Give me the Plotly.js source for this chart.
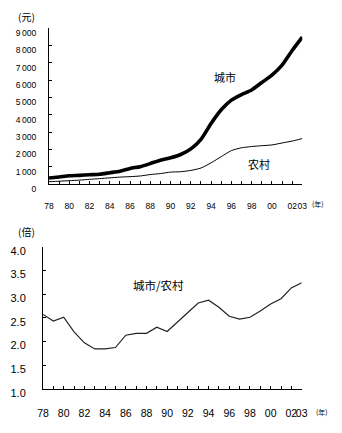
<!DOCTYPE html>
<html>
<head>
<meta charset="utf-8">
<script src="https://cdn.plot.ly/plotly-3.0.1.min.js"></script>
<style>html,body{margin:0;padding:0;background:#fff;}#chart{width:342px;height:433px;}</style>
</head>
<body>
<div id="chart"></div>
<script>
// Years
const years = [1978,1979,1980,1981,1982,1983,1984,1985,1986,1987,1988,1989,1990,1991,1992,1993,1994,1995,1996,1997,1998,1999,2000,2001,2002,2003];
// Urban per-capita income (yuan)
const urban = [343,405,478,500,535,565,652,739,900,1002,1181,1376,1510,1701,2027,2577,3496,4283,4839,5160,5425,5854,6280,6860,7703,8472];
// Rural per-capita income (yuan)
const rural = [134,160,191,223,270,310,355,398,424,463,545,602,686,709,784,922,1221,1578,1926,2090,2162,2210,2253,2366,2476,2622];
// Urban / rural ratio (times)
const ratio = [2.57,2.43,2.51,2.20,1.97,1.84,1.84,1.87,2.13,2.17,2.17,2.30,2.21,2.42,2.61,2.81,2.87,2.72,2.53,2.47,2.51,2.64,2.79,2.90,3.13,3.24];
// Tick labels
const xTickText = ["78","","80","","82","","84","","86","","88","","90","","92","","94","","96","","98","","00","","02","03"];
const yTopVals = [0,1000,2000,3000,4000,5000,6000,7000,8000,9000];
const yTopText = ["0","1\u2009000","2\u2009000","3\u2009000","4\u2009000","5\u2009000","6\u2009000","7\u2009000","8\u2009000","9\u2009000"];
const yBotVals = [1.0,1.5,2.0,2.5,3.0,3.5,4.0];
const yBotText = ["1.0","1.5","2.0","2.5","3.0","3.5","4.0"];

const W = 342, H = 433;
const px = x => x / W;
const py = y => 1 - y / H;
const FONT = "'Liberation Sans', 'Noto Sans CJK SC', sans-serif";
const CJK = "'Noto Sans CJK SC', sans-serif";

const traces = [
  {x: years, y: urban, xaxis: 'x', yaxis: 'y', mode: 'lines',
   line: {color: '#000', width: 3.6, shape: 'spline', smoothing: 0.6}},
  {x: years, y: rural, xaxis: 'x', yaxis: 'y', mode: 'lines',
   line: {color: '#000', width: 1, shape: 'spline', smoothing: 0.6}},
  {x: years, y: ratio, xaxis: 'x2', yaxis: 'y2', mode: 'lines',
   line: {color: '#222', width: 1.2}}
];

const xCommon = {
  range: [1978, 2003], tickmode: 'array', tickvals: years, ticktext: xTickText,
  ticks: 'inside', ticklen: 3, tickwidth: 1, tickcolor: '#000', tickangle: 0,
  showline: true, linecolor: '#000', linewidth: 1, showgrid: false, zeroline: false,
  fixedrange: true
};

const layout = {
  width: W, height: H,
  margin: {l: 0, r: 0, t: 0, b: 0},
  paper_bgcolor: '#fff', plot_bgcolor: '#fff',
  showlegend: false,
  font: {family: FONT, color: '#000'},
  xaxis: Object.assign({}, xCommon, {
    domain: [px(49), px(302.3)], anchor: 'y',
    tickfont: {size: 8.5, family: FONT}, ticklabelstandoff: 14
  }),
  yaxis: {
    domain: [py(184), py(28)], anchor: 'x',
    range: [0, 9000], tickmode: 'array', tickvals: yTopVals, ticktext: yTopText,
    ticks: 'inside', ticklen: 3, tickwidth: 1, tickcolor: '#000',
    showline: true, linecolor: '#000', linewidth: 1, showgrid: false, zeroline: false,
    tickfont: {size: 8.5, family: FONT}, ticklabelshift: 5, ticklabelstandoff: 10
  },
  xaxis2: Object.assign({}, xCommon, {
    domain: [px(43), px(301.7)], anchor: 'y2',
    tickfont: {size: 10.5, family: FONT}, ticklabelstandoff: 15
  }),
  yaxis2: {
    domain: [py(388.7), py(246.7)], anchor: 'x2',
    range: [1, 4], tickmode: 'array', tickvals: yBotVals, ticktext: yBotText,
    ticks: 'inside', ticklen: 3, tickwidth: 1, tickcolor: '#000',
    showline: true, linecolor: '#000', linewidth: 1, showgrid: false, zeroline: false,
    tickfont: {size: 11, family: FONT}, ticklabelshift: 4, ticklabelstandoff: 14
  },
  annotations: [
    {xref: 'paper', yref: 'paper', x: px(26), y: py(16.7), text: '(元)', showarrow: false,
     font: {size: 10, family: CJK}, xanchor: 'center', yanchor: 'middle'},
    {xref: 'paper', yref: 'paper', x: px(224.5), y: py(77.5), text: '城市', showarrow: false,
     font: {size: 11, family: CJK}, xanchor: 'center', yanchor: 'middle'},
    {xref: 'paper', yref: 'paper', x: px(259), y: py(164), text: '农村', showarrow: false,
     font: {size: 11, family: CJK}, xanchor: 'center', yanchor: 'middle'},
    {xref: 'paper', yref: 'paper', x: px(318), y: py(204), text: '(年)', showarrow: false,
     font: {size: 7, family: CJK}, xanchor: 'center', yanchor: 'middle'},
    {xref: 'paper', yref: 'paper', x: px(26), y: py(231.5), text: '(倍)', showarrow: false,
     font: {size: 10, family: CJK}, xanchor: 'center', yanchor: 'middle'},
    {xref: 'paper', yref: 'paper', x: px(158.5), y: py(284.5), text: '城市/农村', showarrow: false,
     font: {size: 11.5, family: CJK}, xanchor: 'center', yanchor: 'middle'},
    {xref: 'paper', yref: 'paper', x: px(321.5), y: py(411.5), text: '(年)', showarrow: false,
     font: {size: 7, family: CJK}, xanchor: 'center', yanchor: 'middle'}
  ]
};

Plotly.newPlot('chart', traces, layout, {staticPlot: true, displayModeBar: false});
</script>
</body>
</html>
